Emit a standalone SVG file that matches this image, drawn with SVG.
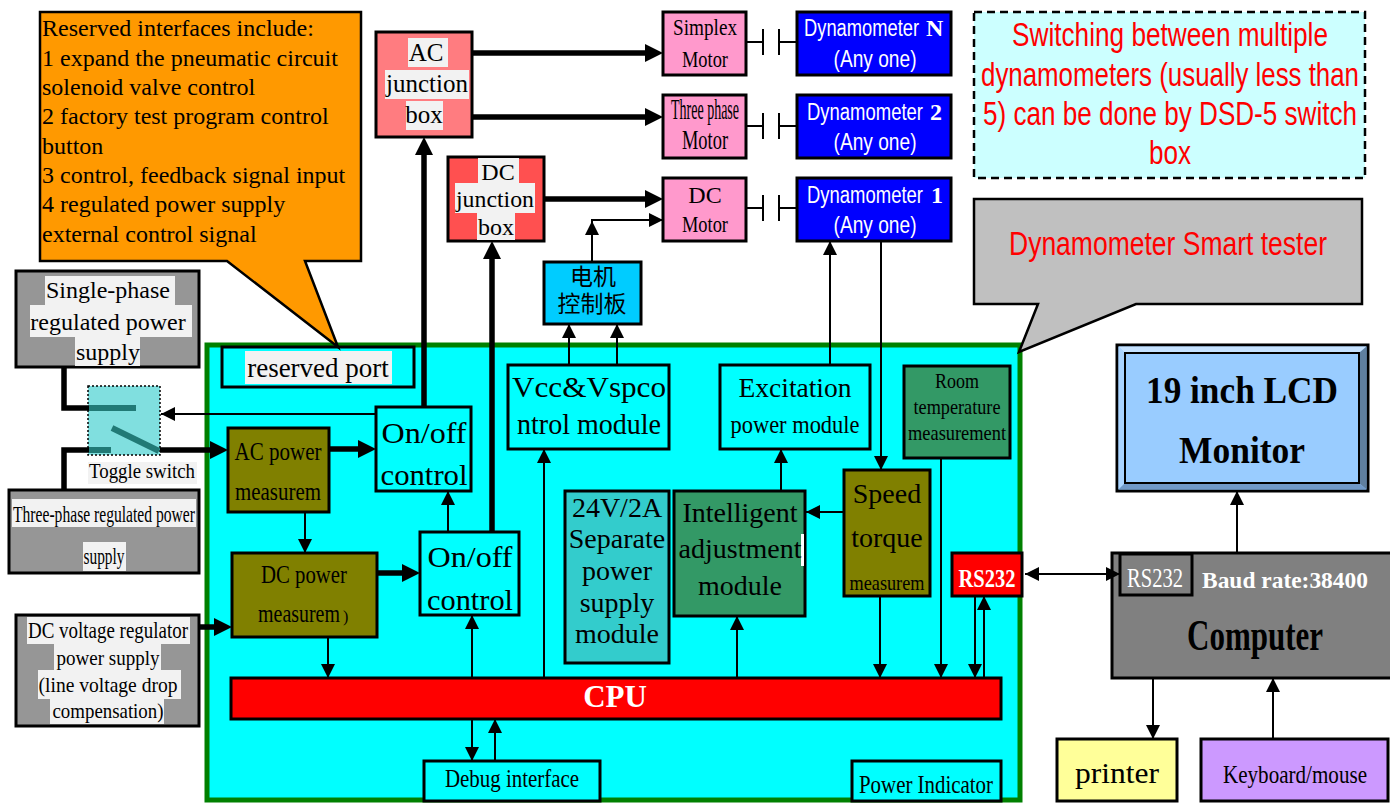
<svg xmlns="http://www.w3.org/2000/svg" width="1390" height="803" viewBox="0 0 1390 803">
<style>
.t{font-family:"Liberation Serif","Times New Roman",serif;fill:#000}
.s{font-family:"Liberation Sans",Arial,sans-serif}
.c{font-family:"Liberation Serif","Noto Sans CJK SC",serif;fill:#000}
.b{stroke:#000;stroke-width:3}
.bg{fill:#f2f2f2}
.m{text-anchor:middle}
.w{fill:#fff}
.red{fill:#ff0000}
.bold{font-weight:bold}
.ln{fill:none;stroke:#000;stroke-width:2}
.tk{fill:none;stroke:#000;stroke-width:5.5}
</style>
<defs>
<marker id="a" markerUnits="userSpaceOnUse" markerWidth="15" markerHeight="15" refX="14" refY="7" orient="auto"><path d="M0,0 L14,7 L0,14 Z" fill="#000"/></marker>
<marker id="as" markerUnits="userSpaceOnUse" markerWidth="15" markerHeight="15" refX="0" refY="7" orient="auto"><path d="M14,0 L0,7 L14,14 Z" fill="#000"/></marker>
<marker id="A" markerUnits="userSpaceOnUse" markerWidth="20" markerHeight="20" refX="8" refY="9" orient="auto"><path d="M0,0 L18,9 L0,18 Z" fill="#000"/></marker>
</defs>

<g id="panel"><rect x="207" y="345" width="813" height="455" fill="#00ffff" stroke="#008000" stroke-width="5"/></g>

<g id="single-phase">
<rect x="16" y="271" width="183" height="96" fill="#969696" class="b"/>
<rect x="45" y="276" width="130" height="29" class="bg"/>
<rect x="30" y="305" width="162" height="32" class="bg"/>
<rect x="75" y="337" width="65" height="29" class="bg"/>
<text x="108" y="298" font-size="24" class="t m">Single-phase</text>
<text x="108" y="330" font-size="24" class="t m">regulated power</text>
<text x="108" y="360" font-size="24" class="t m">supply</text>
</g>
<g id="three-phase">
<rect x="9" y="490" width="190" height="83" fill="#969696" class="b"/>
<rect x="12" y="499" width="184" height="28" class="bg"/>
<rect x="83" y="542" width="43" height="29" class="bg"/>
<text transform="translate(104,522) scale(1,1.47)" font-size="15.6" class="t m" textLength="182" lengthAdjust="spacingAndGlyphs">Three-phase regulated power</text>
<text transform="translate(104,564) scale(1,1.4)" font-size="16.5" class="t m" textLength="41" lengthAdjust="spacingAndGlyphs">supply</text>
</g>
<g id="dc-regulator">
<rect x="16" y="615" width="183" height="111" fill="#969696" class="b"/>
<rect x="27" y="617" width="163" height="27" class="bg"/>
<rect x="54" y="644" width="107" height="26" class="bg"/>
<rect x="38" y="670" width="143" height="29" class="bg"/>
<rect x="50" y="699" width="114" height="25" class="bg"/>
<text transform="translate(108,638) scale(1,1.16)" font-size="19" class="t m" textLength="160" lengthAdjust="spacingAndGlyphs">DC voltage regulator</text>
<text x="108" y="665" font-size="22" class="t m" textLength="103" lengthAdjust="spacingAndGlyphs">power supply</text>
<text x="108" y="692" font-size="22" class="t m" textLength="139" lengthAdjust="spacingAndGlyphs">(line voltage drop</text>
<text x="108" y="718" font-size="22" class="t m" textLength="111" lengthAdjust="spacingAndGlyphs">compensation)</text>
</g>
<g id="toggle-switch">
<rect x="88" y="386" width="72" height="69" fill="#80dfdf" stroke="#000" stroke-width="1.5" stroke-dasharray="2,2"/>
<path d="M89,408 H136 M112,428 L159,451 M89,450 H111" stroke="#217a76" stroke-width="6" fill="none"/>
<rect x="88" y="462" width="109" height="22" class="bg"/>
<text transform="translate(142,478) scale(1,1.17)" font-size="18.8" class="t m" textLength="106" lengthAdjust="spacingAndGlyphs">Toggle switch</text>
</g>

<g id="reserved-port">
<rect x="222" y="347" width="192" height="40" fill="#00ffff" class="b"/>
<rect x="245" y="351" width="147" height="33" class="bg"/>
<text x="318" y="377" font-size="27" class="t m">reserved port</text>
</g>
<g id="ac-power">
<rect x="228" y="428" width="101" height="84" fill="#808000" class="b"/>
<text transform="translate(278,460) scale(1,1.24)" font-size="21" class="t m" textLength="87" lengthAdjust="spacingAndGlyphs">AC power</text>
<text transform="translate(278,500) scale(1,1.24)" font-size="21" class="t m" textLength="86" lengthAdjust="spacingAndGlyphs">measurem</text>
</g>
<g id="dc-power">
<rect x="232" y="553" width="145" height="84" fill="#808000" class="b"/>
<text transform="translate(304,583) scale(1,1.24)" font-size="21" class="t m" textLength="86" lengthAdjust="spacingAndGlyphs">DC power</text>
<text transform="translate(258,622) scale(1,1.29)" font-size="20" class="t" textLength="82" lengthAdjust="spacingAndGlyphs">measurem</text>
<text x="343" y="622" font-size="16" class="t">)</text>
</g>
<g id="onoff-1">
<rect x="376" y="407" width="95" height="84" fill="#00ffff" class="b"/>
<text x="424" y="443" font-size="30" class="t m" textLength="85" lengthAdjust="spacingAndGlyphs">On/off</text>
<text x="424" y="485" font-size="30" class="t m" textLength="87" lengthAdjust="spacingAndGlyphs">control</text>
</g>
<g id="onoff-2">
<rect x="420" y="532" width="99" height="83" fill="#00ffff" class="b"/>
<text x="470" y="567" font-size="30" class="t m" textLength="85" lengthAdjust="spacingAndGlyphs">On/off</text>
<text x="470" y="610" font-size="30" class="t m" textLength="86" lengthAdjust="spacingAndGlyphs">control</text>
</g>
<g id="vcc">
<rect x="508" y="365" width="161" height="84" fill="#00ffff" class="b"/>
<text x="589" y="397" font-size="30" class="t m" textLength="154" lengthAdjust="spacingAndGlyphs">Vcc&amp;Vspco</text>
<text x="589" y="434" font-size="29" class="t m" textLength="144" lengthAdjust="spacingAndGlyphs">ntrol module</text>
</g>
<g id="excitation">
<rect x="720" y="365" width="150" height="84" fill="#00ffff" class="b"/>
<text x="795" y="397" font-size="27" class="t m" textLength="113" lengthAdjust="spacingAndGlyphs">Excitation</text>
<text transform="translate(795,433) scale(1,1.1)" font-size="22.5" class="t m" textLength="129" lengthAdjust="spacingAndGlyphs">power module</text>
</g>
<g id="room-temp">
<rect x="904" y="366" width="106" height="92" fill="#339966" class="b"/>
<text transform="translate(957,388) scale(1,1.2)" font-size="17.5" class="t m" textLength="44" lengthAdjust="spacingAndGlyphs">Room</text>
<text transform="translate(957,414) scale(1,1.2)" font-size="17.5" class="t m" textLength="87" lengthAdjust="spacingAndGlyphs">temperature</text>
<text transform="translate(957,440) scale(1,1.2)" font-size="17.5" class="t m" textLength="98" lengthAdjust="spacingAndGlyphs">measurement</text>
</g>
<g id="psu-24v">
<rect x="565" y="491" width="104" height="172" fill="#33cccc" class="b"/>
<text x="617" y="517" font-size="28" class="t m">24V/2A</text>
<text x="617" y="548" font-size="28" class="t m">Separate</text>
<text x="617" y="580" font-size="28" class="t m">power</text>
<text x="617" y="612" font-size="28" class="t m">supply</text>
<text x="617" y="643" font-size="28" class="t m">module</text>
</g>
<g id="intelligent">
<rect x="674" y="491" width="131" height="125" fill="#339966" class="b"/>
<rect x="801" y="534" width="3" height="32" fill="#fff"/>
<text x="740" y="522" font-size="28" class="t m">Intelligent</text>
<text x="740" y="558" font-size="28" class="t m">adjustment</text>
<text x="740" y="595" font-size="28" class="t m">module</text>
</g>
<g id="speed-torque">
<rect x="844" y="470" width="86" height="126" fill="#808000" class="b"/>
<text x="887" y="503" font-size="28" class="t m">Speed</text>
<text x="887" y="547" font-size="28" class="t m">torque</text>
<text transform="translate(887,590) scale(1,1.16)" font-size="18" class="t m" textLength="75" lengthAdjust="spacingAndGlyphs">measurem</text>
</g>
<g id="rs232-tester">
<rect x="952" y="553" width="70" height="43" fill="#ff0000" class="b"/>
<text transform="translate(987,587) scale(1,1.27)" font-size="20.5" class="t m w bold" textLength="57" lengthAdjust="spacingAndGlyphs">RS232</text>
</g>
<g id="cpu">
<rect x="231" y="678" width="770" height="41" fill="#ff0000" class="b"/>
<text x="615" y="707" font-size="31" class="t m w bold">CPU</text>
</g>
<g id="debug">
<rect x="424" y="761" width="176" height="40" fill="#00ffff" class="b"/>
<text transform="translate(512,787) scale(1,1.2)" font-size="21" class="t m" textLength="134" lengthAdjust="spacingAndGlyphs">Debug interface</text>
</g>
<g id="power-indicator">
<rect x="852" y="761" width="149" height="40" fill="#00ffff" class="b"/>
<text transform="translate(926,793) scale(1,1.2)" font-size="20.8" class="t m" textLength="134" lengthAdjust="spacingAndGlyphs">Power Indicator</text>
</g>

<g id="ac-junction">
<rect x="376" y="32" width="96" height="105" fill="#ff7c80" class="b"/>
<rect x="408" y="38" width="40" height="29" class="bg"/>
<rect x="385" y="70" width="84" height="29" class="bg"/>
<rect x="406" y="101" width="37" height="29" class="bg"/>
<text x="426" y="61" font-size="25" class="t m">AC</text>
<text x="427" y="92" font-size="25" class="t m">junction</text>
<text x="424" y="123" font-size="25" class="t m">box</text>
</g>
<g id="dc-junction">
<rect x="448" y="157" width="96" height="84" fill="#ff5050" class="b"/>
<rect x="478" y="158" width="41" height="25" class="bg"/>
<rect x="455" y="183" width="80" height="30" class="bg"/>
<rect x="477" y="213" width="38" height="27" class="bg"/>
<text x="498" y="180" font-size="24" class="t m">DC</text>
<text x="495" y="207" font-size="24" class="t m" textLength="78" lengthAdjust="spacingAndGlyphs">junction</text>
<text x="496" y="235" font-size="24" class="t m">box</text>
</g>
<g id="motor-board">
<rect x="544" y="262" width="97" height="62" fill="#00ccff" class="b"/>
<text x="593" y="285" font-size="23" class="c m">电机</text>
<text x="592" y="312" font-size="23" class="c m">控制板</text>
</g>
<g id="simplex-motor">
<rect x="663" y="12" width="83" height="63" fill="#ff99cc" class="b"/>
<text transform="translate(705,35) scale(1,1.25)" font-size="19.2" class="t m" textLength="64" lengthAdjust="spacingAndGlyphs">Simplex</text>
<text transform="translate(705,67) scale(1,1.3)" font-size="18.4" class="t m" textLength="46" lengthAdjust="spacingAndGlyphs">Motor</text>
</g>
<g id="three-phase-motor">
<rect x="663" y="95" width="83" height="63" fill="#ff99cc" class="b"/>
<text transform="translate(705,119) scale(1,2.07)" font-size="14" class="t m" textLength="68" lengthAdjust="spacingAndGlyphs">Three phase</text>
<text transform="translate(705,149) scale(1,1.52)" font-size="18.4" class="t m" textLength="46" lengthAdjust="spacingAndGlyphs">Motor</text>
</g>
<g id="dc-motor">
<rect x="663" y="178" width="83" height="63" fill="#ff99cc" class="b"/>
<text x="705" y="203" font-size="24" class="t m">DC</text>
<text transform="translate(705,232) scale(1,1.3)" font-size="18.4" class="t m" textLength="46" lengthAdjust="spacingAndGlyphs">Motor</text>
</g>
<g id="dyno-n">
<rect x="797" y="12" width="154" height="63" fill="#0000ff" class="b"/>
<text transform="translate(804,36) scale(1,1.43)" font-size="16.8" class="s w" textLength="115" lengthAdjust="spacingAndGlyphs">Dynamometer</text>
<text x="926" y="36" font-size="24" class="t w bold">N</text>
<text transform="translate(875,67) scale(1,1.2)" font-size="20" class="s m w" textLength="83" lengthAdjust="spacingAndGlyphs">(Any one)</text>
</g>
<g id="dyno-2">
<rect x="797" y="95" width="154" height="63" fill="#0000ff" class="b"/>
<text transform="translate(807,120) scale(1,1.43)" font-size="16.8" class="s w" textLength="116" lengthAdjust="spacingAndGlyphs">Dynamometer</text>
<text x="930" y="120" font-size="24" class="t w bold">2</text>
<text transform="translate(875,150) scale(1,1.2)" font-size="20" class="s m w" textLength="83" lengthAdjust="spacingAndGlyphs">(Any one)</text>
</g>
<g id="dyno-1">
<rect x="797" y="178" width="154" height="63" fill="#0000ff" class="b"/>
<text transform="translate(807,203) scale(1,1.43)" font-size="16.8" class="s w" textLength="116" lengthAdjust="spacingAndGlyphs">Dynamometer</text>
<text x="931" y="203" font-size="24" class="t w bold">1</text>
<text transform="translate(875,233) scale(1,1.2)" font-size="20" class="s m w" textLength="83" lengthAdjust="spacingAndGlyphs">(Any one)</text>
</g>
<g id="switch-note">
<rect x="974" y="12" width="391" height="166" fill="#ccffff" stroke="#000" stroke-width="2.5" stroke-dasharray="8,5"/>
<text transform="translate(1170,46) scale(1,1.3)" font-size="26" class="s m red" textLength="316" lengthAdjust="spacingAndGlyphs">Switching between multiple</text>
<text transform="translate(1170,86) scale(1,1.3)" font-size="25.5" class="s m red" textLength="378" lengthAdjust="spacingAndGlyphs">dynamometers (usually less than</text>
<text transform="translate(1170,125) scale(1,1.3)" font-size="26" class="s m red" textLength="374" lengthAdjust="spacingAndGlyphs">5) can be done by DSD-5 switch</text>
<text transform="translate(1170,164) scale(1,1.3)" font-size="26" class="s m red" textLength="42" lengthAdjust="spacingAndGlyphs">box</text>
</g>

<g id="monitor">
<rect x="1117" y="345" width="251" height="146" fill="#99ccff" stroke="#000" stroke-width="3"/>
<polygon points="1118.5,346.5 1366.5,346.5 1359,353 1125,353" fill="#c6e2ff"/>
<polygon points="1118.5,346.5 1125,353 1125,483 1118.5,489.5" fill="#aad4ff"/>
<polygon points="1366.5,346.5 1366.5,489.5 1359,483 1359,353" fill="#5f7f9f"/>
<polygon points="1118.5,489.5 1125,483 1359,483 1366.5,489.5" fill="#7099c8"/>
<rect x="1125" y="353" width="234" height="130" fill="#99ccff" stroke="#000" stroke-width="2"/>
<text x="1242" y="403" font-size="38" class="t m bold" textLength="192" lengthAdjust="spacingAndGlyphs">19 inch LCD</text>
<text x="1242" y="463" font-size="38" class="t m bold" textLength="126" lengthAdjust="spacingAndGlyphs">Monitor</text>
</g>
<g id="computer">
<rect x="1112" y="553" width="280" height="125" fill="#808080" class="b"/>
<rect x="1120" y="554" width="72" height="41" fill="#808080" class="b"/>
<text transform="translate(1155,587) scale(1,1.37)" font-size="20.5" class="t m w" textLength="56" lengthAdjust="spacingAndGlyphs">RS232</text>
<text x="1202" y="588" font-size="23" class="t w bold" textLength="166" lengthAdjust="spacingAndGlyphs">Baud rate:38400</text>
<text transform="translate(1255,650) scale(1,1.4)" font-size="31" class="t m bold" textLength="136" lengthAdjust="spacingAndGlyphs">Computer</text>
</g>
<g id="printer">
<rect x="1057" y="739" width="120" height="62" fill="#ffff99" class="b"/>
<text x="1117" y="783" font-size="30" class="t m" textLength="84" lengthAdjust="spacingAndGlyphs">printer</text>
</g>
<g id="keyboard">
<rect x="1201" y="739" width="187" height="62" fill="#cc99ff" class="b"/>
<text transform="translate(1295,783) scale(1,1.2)" font-size="21.5" class="t m" textLength="144" lengthAdjust="spacingAndGlyphs">Keyboard/mouse</text>
</g>

<g id="connectors">
<path class="ln" d="M941,458 V678" marker-end="url(#a)"/>
<path class="ln" d="M880,596 V678" marker-end="url(#a)"/>
<path class="ln" d="M975,596 V678" marker-end="url(#a)"/>
<path class="ln" d="M984,678 V596" marker-end="url(#a)"/>
<path class="ln" d="M737,678 V616" marker-end="url(#a)"/>
<path class="ln" d="M781,491 V449" marker-end="url(#a)"/>
<path class="ln" d="M844,512 H806" marker-end="url(#a)"/>
<path class="ln" d="M830,365 V241" marker-end="url(#a)"/>
<path class="ln" d="M881,241 V470" marker-end="url(#a)"/>
<path class="ln" d="M544,678 V449" marker-end="url(#a)"/>
<path class="ln" d="M569,365 V324" marker-end="url(#a)"/>
<path class="ln" d="M617,365 V324" marker-end="url(#a)"/>
<path class="ln" d="M592,262 V221" marker-end="url(#a)"/>
<path class="ln" d="M591,220 H663" marker-end="url(#a)"/>
<path class="ln" d="M472,678 V615" marker-end="url(#a)"/>
<path class="ln" d="M448,532 V491" marker-end="url(#a)"/>
<path class="ln" d="M305,512 V553" marker-end="url(#a)"/>
<path class="ln" d="M328,637 V678" marker-end="url(#a)"/>
<path class="ln" d="M472,719 V761" marker-end="url(#a)"/>
<path class="ln" d="M495,761 V719" marker-end="url(#a)"/>
<path class="ln" d="M376,414 H161" marker-end="url(#a)"/>
<path class="ln" d="M1237,553 V491" marker-end="url(#a)"/>
<path class="ln" d="M1153,678 V739" marker-end="url(#a)"/>
<path class="ln" d="M1273,739 V678" marker-end="url(#a)"/>
<path class="ln" d="M1025,574 H1120" marker-start="url(#as)" marker-end="url(#a)"/>
<path class="ln" stroke-width="2.5" d="M746,42 H763 M763,29 V55 M779,29 V55 M779,42 H797"/>
<path class="ln" stroke-width="2.5" d="M746,126 H763 M763,113 V139 M779,113 V139 M779,126 H797"/>
<path class="ln" stroke-width="2.5" d="M746,208 H763 M763,195 V221 M779,195 V221 M779,208 H797"/>
<path class="tk" d="M424,407 V147" marker-end="url(#A)"/>
<path class="tk" d="M492,532 V251" marker-end="url(#A)"/>
<path class="tk" d="M472,53 H653" marker-end="url(#A)"/>
<path class="tk" d="M472,117 H653" marker-end="url(#A)"/>
<path class="tk" d="M544,199 H653" marker-end="url(#A)"/>
<path class="tk" d="M160,450 H218" marker-end="url(#A)"/>
<path class="tk" d="M329,449 H366" marker-end="url(#A)"/>
<path class="tk" d="M377,573 H410" marker-end="url(#A)"/>
<path class="tk" d="M199,627 H222" marker-end="url(#A)"/>
<path class="tk" d="M64,367 V408 H89"/>
<path class="tk" d="M64,490 V450 H89"/>
</g>

<g id="reserved-note">
<path d="M40,12 H361 V261 H305 L338,347 L227,261 H40 Z" fill="#ff9900" stroke="#000" stroke-width="2.5"/>
<text x="42" y="36" font-size="24" class="t">Reserved interfaces include:</text>
<text x="42" y="66" font-size="24" class="t">1 expand the pneumatic circuit</text>
<text x="42" y="95" font-size="24" class="t">solenoid valve control</text>
<text x="42" y="124" font-size="24" class="t">2 factory test program control</text>
<text x="42" y="154" font-size="24" class="t">button</text>
<text x="42" y="183" font-size="24" class="t">3 control, feedback signal input</text>
<text x="42" y="212" font-size="24" class="t">4 regulated power supply</text>
<text x="42" y="242" font-size="24" class="t">external control signal</text>
</g>
<g id="tester-note">
<path d="M974,199 H1362 V304 H1136 L1019,352 L1038,304 H974 Z" fill="#c0c0c0" stroke="#000" stroke-width="2.5"/>
<text transform="translate(1168,255) scale(1,1.3)" font-size="26" class="s m red" textLength="318" lengthAdjust="spacingAndGlyphs">Dynamometer Smart tester</text>
</g>
</svg>
